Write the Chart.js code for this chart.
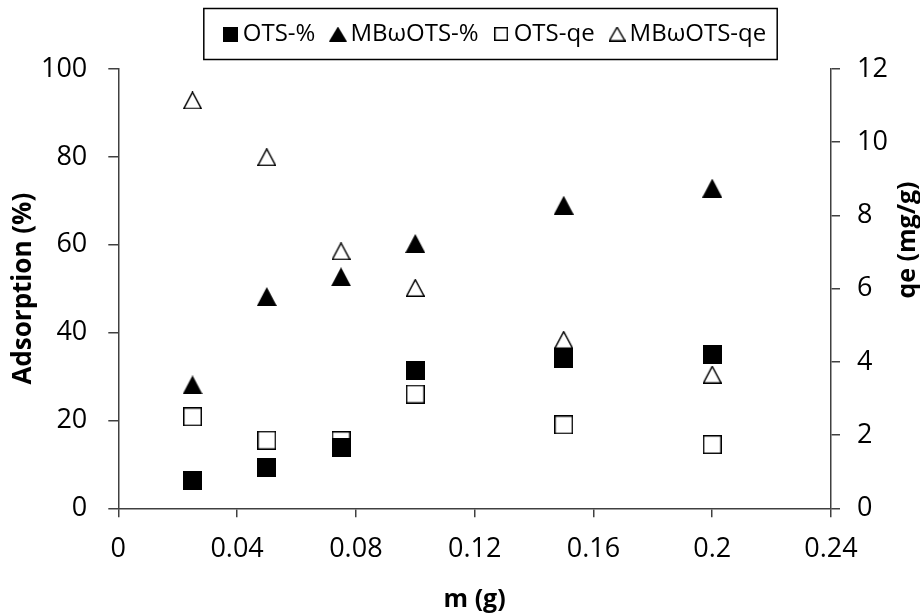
<!DOCTYPE html>
<html>
<head>
<meta charset="utf-8">
<script src="https://cdn.jsdelivr.net/npm/chart.js@4.4.0/dist/chart.umd.min.js"></script>
<style>
    html, body { margin: 0; padding: 0; background: #fff; }
    #wrap { width: 920px; height: 615px; }
</style>
</head>
<body>
<div id="wrap"><canvas id="adsChart" width="920" height="615"></canvas></div>
<script>
// sorbent mass m (g)
const massValues = [0.025, 0.05, 0.075, 0.1, 0.15, 0.2];
// adsorption (%) - left axis
const otsPercent = [6.4, 9.3, 13.8, 31.3, 34.1, 34.9];
const mbOtsPercent = [28.1, 48.2, 52.7, 60.3, 69.0, 72.9];
// qe (mg/g) - right axis
const otsQe = [2.50, 1.86, 1.85, 3.12, 2.28, 1.74];
const mbOtsQe = [11.14, 9.59, 7.02, 6.02, 4.6, 3.65];

const seriesNames = ['OTS-%', 'MBωOTS-%', 'OTS-qe', 'MBωOTS-qe'];
const xTicks = [0, 0.04, 0.08, 0.12, 0.16, 0.2, 0.24];
const xTickLabels = ['0', '0.04', '0.08', '0.12', '0.16', '0.2', '0.24'];
const leftTicks = [0, 20, 40, 60, 80, 100];
const rightTicks = [0, 2, 4, 6, 8, 10, 12];

const axisColor = '#404040';

// Excel-like markers drawn on small canvases (open ones have no fill)
function makeMarker(shape, filled, w, h) {
    const c = document.createElement('canvas');
    c.width = w;
    c.height = h;
    const ctx = c.getContext('2d');
    const lw = 1.5;
    const p = filled ? 0 : lw / 2;
    ctx.beginPath();
    if (shape === 'square') {
        ctx.rect(p, p, w - 2 * p, h - 2 * p);
    } else {
        ctx.moveTo(w / 2, p);
        ctx.lineTo(w - p, h - p);
        ctx.lineTo(p, h - p);
        ctx.closePath();
    }
    if (filled) {
        ctx.fillStyle = '#000';
        ctx.fill();
    } else {
        ctx.strokeStyle = '#000';
        ctx.lineWidth = lw;
        ctx.stroke();
    }
    return c;
}

const pointMarkers = [
    makeMarker('square', true, 19, 19),
    makeMarker('triangle', true, 20, 19),
    makeMarker('square', false, 19, 19),
    makeMarker('triangle', false, 19, 18)
];
const legendMarkers = [
    makeMarker('square', true, 15, 15),
    makeMarker('triangle', true, 18, 15),
    makeMarker('square', false, 14, 14),
    makeMarker('triangle', false, 17, 15)
];

function toPoints(ys) {
    return massValues.map((x, i) => ({ x: x, y: ys[i] }));
}

const layoutTweaks = {
    id: 'layoutTweaks',
    beforeUpdate(chart) {
        const legend = chart.legend;
        if (legend && !legend._patched) {
            const fit = legend.fit;
            legend.fit = function () {
                fit.call(this);
                this.height = 69;
            };
            legend._patched = true;
        }
    },
    afterLayout(chart) {
        // legend sits a bit right of centre in the original
        chart.legend.left += 38;
        chart.legend.right += 38;
    },
    afterDraw(chart) {
        const ctx = chart.ctx;
        const boxes = chart.legend.legendHitBoxes;
        if (boxes && boxes.length) {
            const first = boxes[0];
            const last = boxes[boxes.length - 1];
            const cy = first.top + first.height / 2;
            const left = first.left - 26;
            ctx.save();
            ctx.strokeStyle = '#000';
            ctx.lineWidth = 1.5;
            ctx.strokeRect(left, cy - 25.5, last.left + last.width + 11 - left, 51);
            ctx.restore();
        }
        // right axis title reads bottom-to-top, like the left one
        ctx.save();
        ctx.translate(908, 240);
        ctx.rotate(-Math.PI / 2);
        ctx.font = "bold 25px 'Open Sans'";
        ctx.fillStyle = '#000';
        ctx.textAlign = 'center';
        ctx.textBaseline = 'middle';
        ctx.fillText('qe (mg/g)', 0, 0);
        ctx.restore();
    }
};

Chart.defaults.font.family = "'Open Sans', sans-serif";
Chart.defaults.color = '#000';

const ctx = document.getElementById('adsChart').getContext('2d');
new Chart(ctx, {
    type: 'scatter',
    data: {
        datasets: [
            { label: seriesNames[0], data: toPoints(otsPercent), yAxisID: 'y', pointStyle: pointMarkers[0] },
            { label: seriesNames[1], data: toPoints(mbOtsPercent), yAxisID: 'y', pointStyle: pointMarkers[1] },
            { label: seriesNames[2], data: toPoints(otsQe), yAxisID: 'y2', pointStyle: pointMarkers[2] },
            { label: seriesNames[3], data: toPoints(mbOtsQe), yAxisID: 'y2', pointStyle: pointMarkers[3] }
        ]
    },
    options: {
        responsive: false,
        animation: false,
        devicePixelRatio: 1,
        layout: { padding: 0 },
        plugins: {
            tooltip: { enabled: false },
            legend: {
                position: 'top',
                labels: {
                    usePointStyle: true,
                    boxWidth: 1,
                    padding: 22,
                    color: '#000',
                    font: { size: 24 },
                    generateLabels: function (chart) {
                        return chart.data.datasets.map((ds, i) => ({
                            text: ds.label,
                            pointStyle: legendMarkers[i],
                            datasetIndex: i,
                            hidden: false,
                            lineWidth: 0,
                            fillStyle: '#000',
                            strokeStyle: '#000',
                            fontColor: '#000'
                        }));
                    }
                }
            }
        },
        scales: {
            x: {
                type: 'linear',
                position: 'bottom',
                min: 0,
                max: 0.24,
                afterBuildTicks: (s) => { s.ticks = xTicks.map(v => ({ value: v })); },
                ticks: {
                    callback: (v, i) => xTickLabels[i],
                    font: { size: 27 },
                    color: '#000',
                    padding: 16,
                    maxRotation: 0,
                    autoSkip: false
                },
                grid: { drawOnChartArea: false, tickLength: 9, color: axisColor, lineWidth: 1.5 },
                border: { color: axisColor, width: 1.5 },
                title: {
                    display: true,
                    text: 'm (g)',
                    color: '#000',
                    font: { size: 25, weight: 'bold' },
                    padding: { top: 0, bottom: 0 }
                },
                afterFit: (s) => { s.height = 106.7; }
            },
            y: {
                type: 'linear',
                position: 'left',
                min: 0,
                max: 100,
                afterBuildTicks: (s) => { s.ticks = leftTicks.map(v => ({ value: v })); },
                ticks: { font: { size: 27 }, color: '#000', padding: 21 },
                grid: { drawOnChartArea: false, tickLength: 10, color: axisColor, lineWidth: 1.5 },
                border: { color: axisColor, width: 1.5 },
                title: {
                    display: true,
                    text: 'Adsorption (%)',
                    color: '#000',
                    font: { size: 26, weight: 'bold' },
                    padding: { top: 8, bottom: 0 }
                },
                afterFit: (s) => { s.width = 118.3; }
            },
            y2: {
                type: 'linear',
                position: 'right',
                min: 0,
                max: 12,
                afterBuildTicks: (s) => { s.ticks = rightTicks.map(v => ({ value: v })); },
                ticks: { font: { size: 27 }, color: '#000', padding: 17 },
                grid: { drawOnChartArea: false, tickLength: 9, color: axisColor, lineWidth: 1.5 },
                border: { color: axisColor, width: 1.5 },
                afterFit: (s) => { s.width = 89; }
            }
        }
    },
    plugins: [layoutTweaks]
});
</script>
</body>
</html>
